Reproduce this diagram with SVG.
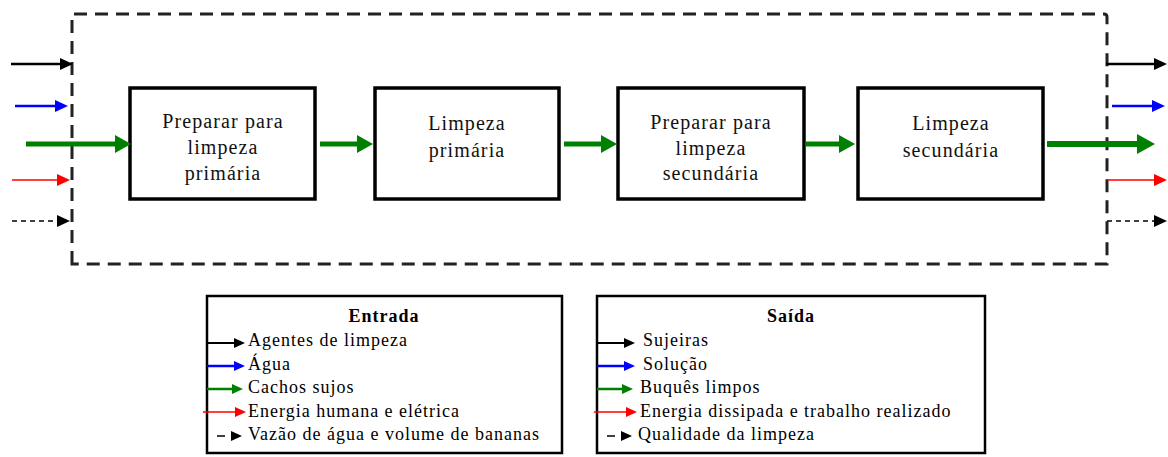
<svg xmlns="http://www.w3.org/2000/svg" width="1168" height="457" viewBox="0 0 1168 457">
<style>
  .box { fill: #fff; stroke: #000; stroke-width: 3.5; }
  .leg { fill: #fff; stroke: #000; stroke-width: 2.5; }
  .frame { fill: none; stroke: #222; stroke-width: 3; stroke-dasharray: 13 8; }
  .bt { font-family: "Liberation Serif", "Times New Roman", serif; font-size: 20px; letter-spacing: 1.1px; fill: #111; text-anchor: middle; }
  .lt { font-family: "Liberation Serif", "Times New Roman", serif; font-size: 18px; letter-spacing: 1px; fill: #000; }
  .title { font-family: "Liberation Serif", "Times New Roman", serif; font-size: 18px; font-weight: bold; letter-spacing: 1px; fill: #000; text-anchor: middle; }
  .k { stroke: #000; stroke-width: 2.5; fill: none; }
  .b { stroke: #0000ff; stroke-width: 2.5; fill: none; }
  .r { stroke: #ff0000; stroke-width: 1.5; fill: none; }
  .d { stroke: #000; stroke-width: 1.5; fill: none; stroke-dasharray: 5 4; }
  .g { stroke: #008000; stroke-width: 5; fill: none; }
  .gl { stroke: #008000; stroke-width: 2.5; fill: none; }
</style>
<defs>
  <marker id="hk" markerUnits="userSpaceOnUse" markerWidth="13" markerHeight="12" refX="0" refY="6" orient="auto"><path d="M0,0 L13,6 L0,12 Z" fill="#000"/></marker>
  <marker id="hb" markerUnits="userSpaceOnUse" markerWidth="13" markerHeight="12" refX="0" refY="6" orient="auto"><path d="M0,0 L13,6 L0,12 Z" fill="#0000ff"/></marker>
  <marker id="hr" markerUnits="userSpaceOnUse" markerWidth="13" markerHeight="12" refX="0" refY="6" orient="auto"><path d="M0,0 L13,6 L0,12 Z" fill="#ff0000"/></marker>
  <marker id="hg" markerUnits="userSpaceOnUse" markerWidth="16" markerHeight="18" refX="0" refY="9" orient="auto"><path d="M0,0 L16,9 L0,18 Z" fill="#008000"/></marker>
  <marker id="hgb" markerUnits="userSpaceOnUse" markerWidth="18" markerHeight="20" refX="0" refY="10" orient="auto"><path d="M0,0 L18,10 L0,20 Z" fill="#008000"/></marker>
  <marker id="sk" markerUnits="userSpaceOnUse" markerWidth="11" markerHeight="10" refX="0" refY="5" orient="auto"><path d="M0,0 L11,5 L0,10 Z" fill="#000"/></marker>
  <marker id="sb" markerUnits="userSpaceOnUse" markerWidth="11" markerHeight="10" refX="0" refY="5" orient="auto"><path d="M0,0 L11,5 L0,10 Z" fill="#0000ff"/></marker>
  <marker id="sg" markerUnits="userSpaceOnUse" markerWidth="11" markerHeight="10" refX="0" refY="5" orient="auto"><path d="M0,0 L11,5 L0,10 Z" fill="#008000"/></marker>
  <marker id="sr" markerUnits="userSpaceOnUse" markerWidth="11" markerHeight="10" refX="0" refY="5" orient="auto"><path d="M0,0 L11,5 L0,10 Z" fill="#ff0000"/></marker>
</defs>
<rect width="1168" height="457" fill="#fff"/>

<g id="system-boundary">
  <path class="frame" d="M72,264 L72,14 L1104,14 Q1107,14 1107,17 L1107,264 Z"/>
</g>

<g id="node-preparar-primaria">
  <rect class="box" x="130" y="88" width="185" height="111"/>
  <text class="bt" x="223" y="128">Preparar para</text>
  <text class="bt" x="223" y="154">limpeza</text>
  <text class="bt" x="223" y="180">primária</text>
</g>
<g id="node-limpeza-primaria">
  <rect class="box" x="375" y="88" width="184" height="111"/>
  <text class="bt" x="467" y="130">Limpeza</text>
  <text class="bt" x="467" y="157">primária</text>
</g>
<g id="node-preparar-secundaria">
  <rect class="box" x="618" y="88" width="186" height="111"/>
  <text class="bt" x="711" y="129">Preparar para</text>
  <text class="bt" x="711" y="155">limpeza</text>
  <text class="bt" x="711" y="180">secundária</text>
</g>
<g id="node-limpeza-secundaria">
  <rect class="box" x="858" y="88" width="185" height="111"/>
  <text class="bt" x="951" y="130">Limpeza</text>
  <text class="bt" x="951" y="157">secundária</text>
</g>

<g id="connectors">
  <!-- inputs -->
  <line class="k" x1="11" y1="64" x2="60" y2="64" marker-end="url(#hk)"/>
  <line class="b" x1="15" y1="106" x2="55" y2="106" marker-end="url(#hb)"/>
  <line class="g" x1="26" y1="144" x2="115" y2="144" marker-end="url(#hg)"/>
  <line class="r" x1="12" y1="180" x2="57" y2="180" marker-end="url(#hr)"/>
  <line class="d" x1="12" y1="221" x2="57" y2="221" marker-end="url(#hk)"/>
  <!-- between processes -->
  <line class="g" x1="320" y1="144" x2="357" y2="144" marker-end="url(#hg)"/>
  <line class="g" x1="564" y1="144" x2="601" y2="144" marker-end="url(#hg)"/>
  <line class="g" x1="806" y1="144" x2="839" y2="144" marker-end="url(#hg)"/>
  <!-- outputs -->
  <line class="k" x1="1106" y1="64" x2="1154" y2="64" marker-end="url(#hk)"/>
  <line class="b" x1="1112" y1="106" x2="1152" y2="106" marker-end="url(#hb)"/>
  <line class="g" x1="1047" y1="144" x2="1137" y2="144" style="stroke-width:6" marker-end="url(#hgb)"/>
  <line class="r" x1="1107" y1="180" x2="1154" y2="180" marker-end="url(#hr)"/>
  <line class="d" x1="1107" y1="221" x2="1154" y2="221" marker-end="url(#hk)"/>
</g>

<g id="legend-entrada">
  <rect class="leg" x="207" y="296" width="355" height="157"/>
  <text class="title" x="384" y="322">Entrada</text>
  <line class="k" x1="207" y1="343" x2="234" y2="343" style="stroke-width:2" marker-end="url(#sk)"/>
  <line class="b" x1="207" y1="366" x2="234" y2="366" marker-end="url(#sb)"/>
  <line class="gl" x1="207" y1="389" x2="232" y2="389" marker-end="url(#sg)"/>
  <line class="r" x1="203" y1="412" x2="235" y2="412" marker-end="url(#sr)"/>
  <line class="k" x1="217" y1="436" x2="225" y2="436" style="stroke-width:1.5"/>
  <path d="M231,431 L242,436 L231,441 Z" fill="#000"/>
  <text class="lt" x="248" y="346">Agentes de limpeza</text>
  <text class="lt" x="248" y="370">Água</text>
  <text class="lt" x="248" y="393">Cachos sujos</text>
  <text class="lt" x="248" y="417">Energia humana e elétrica</text>
  <text class="lt" x="248" y="440">Vazão de água e volume de bananas</text>
</g>

<g id="legend-saida">
  <rect class="leg" x="597" y="296" width="388" height="157"/>
  <text class="title" x="791" y="322">Saída</text>
  <line class="k" x1="597" y1="343" x2="624" y2="343" style="stroke-width:2" marker-end="url(#sk)"/>
  <line class="b" x1="597" y1="366" x2="624" y2="366" marker-end="url(#sb)"/>
  <line class="gl" x1="597" y1="389" x2="622" y2="389" marker-end="url(#sg)"/>
  <line class="r" x1="594" y1="412" x2="626" y2="412" marker-end="url(#sr)"/>
  <line class="k" x1="607" y1="436" x2="615" y2="436" style="stroke-width:1.5"/>
  <path d="M621,431 L632,436 L621,441 Z" fill="#000"/>
  <text class="lt" x="643" y="346">Sujeiras</text>
  <text class="lt" x="643" y="370">Solução</text>
  <text class="lt" x="640" y="393">Buquês limpos</text>
  <text class="lt" x="640" y="417">Energia dissipada e trabalho realizado</text>
  <text class="lt" x="638" y="440">Qualidade da limpeza</text>
</g>
</svg>
